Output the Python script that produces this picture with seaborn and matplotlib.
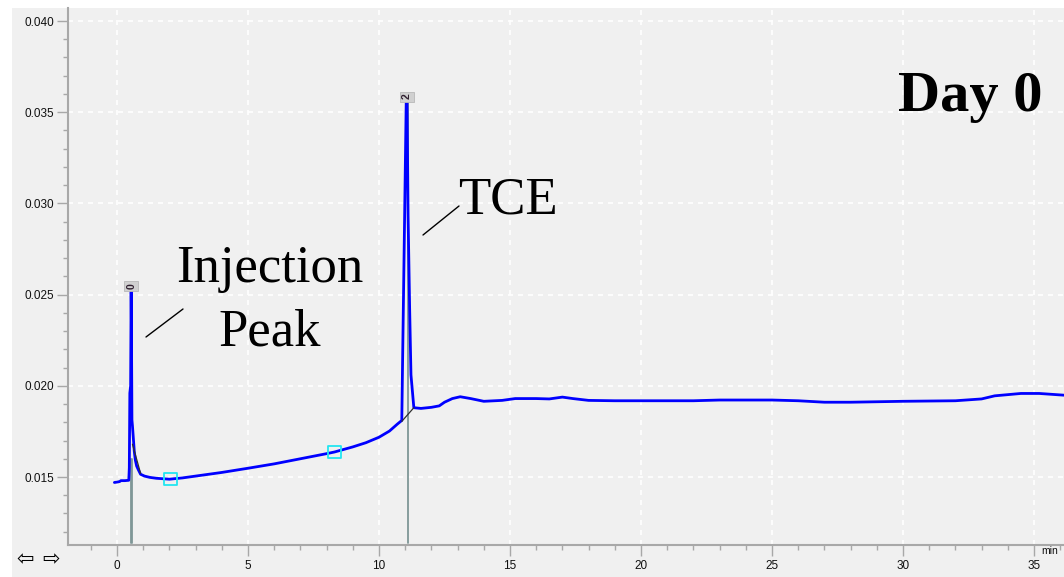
import numpy as np
import pandas as pd
import matplotlib
matplotlib.use("Agg")
import matplotlib.pyplot as plt
import seaborn as sns
from matplotlib.patches import Rectangle

# ---------------- data ----------------
time_min = [-0.10, 0.00, 0.10, 0.15, 0.30, 0.45, 0.47, 0.49, 0.52, 0.54, 0.55, 0.57, 0.59,
            0.61, 0.63, 0.66, 0.70, 0.75, 0.82, 0.90, 1.05, 1.25, 1.50, 2.00, 2.50, 3.00,
            3.50, 4.00, 5.00, 6.00, 7.00, 8.00, 8.30, 9.00, 9.50, 10.00, 10.40, 10.70,
            10.87, 10.90, 10.98, 11.04, 11.07, 11.11, 11.17, 11.22, 11.33, 11.60, 12.00,
            12.30, 12.50, 12.80, 13.10, 13.50, 14.00, 14.70, 15.20, 16.00, 16.50, 17.00,
            17.40, 18.00, 19.00, 20.00, 22.00, 23.00, 25.00, 26.00, 27.00, 28.00, 30.00,
            32.00, 33.00, 33.50, 34.50, 35.20, 36.20]
signal = [0.01470, 0.01472, 0.01475, 0.01480, 0.01480, 0.01482, 0.01550, 0.01960, 0.02000,
          0.02530, 0.02350, 0.01813, 0.01780, 0.01740, 0.01700, 0.01640, 0.01593, 0.01560,
          0.01538, 0.01515, 0.01505, 0.01498, 0.01493, 0.01488, 0.01495, 0.01505, 0.01515,
          0.01525, 0.01548, 0.01572, 0.01600, 0.01628, 0.01637, 0.01665, 0.01688, 0.01718,
          0.01752, 0.01790, 0.01810, 0.02130, 0.02950, 0.03570, 0.03570, 0.02930, 0.02420,
          0.02060, 0.01880, 0.01876, 0.01882, 0.01890, 0.01910, 0.01930, 0.01940, 0.01930,
          0.01915, 0.01920, 0.01930, 0.01930, 0.01928, 0.01938, 0.01930, 0.01920, 0.01918,
          0.01918, 0.01918, 0.01922, 0.01922, 0.01918, 0.01910, 0.01910, 0.01915, 0.01918,
          0.01928, 0.01945, 0.01958, 0.01958, 0.01948]

peak_times = [0.54, 11.07]
peak_heights = [0.0253, 0.0357]
peak_ids = ["0", "2"]
cut_lines = [0.52, 0.59, 11.09]
cut_tops = [0.0160, 0.0160, 0.0357]
marker_times = [2.05, 8.30]
marker_vals = [0.01488, 0.01637]
baseline_tce_t = [10.87, 11.33]
baseline_tce_v = [0.01805, 0.01880]
baseline_inj_t = [0.59, 0.90]
baseline_inj_v = [0.01680, 0.01520]

x_major = [0, 5, 10, 15, 20, 25, 30, 35]
y_major = [0.015, 0.020, 0.025, 0.030, 0.035, 0.040]

# ---------------- figure ----------------
sns.set_style("white")
plt.rcParams['font.family'] = ['Liberation Sans', 'DejaVu Sans']

W, H = 1064, 577
fig = plt.figure(figsize=(W / 100, H / 100), dpi=100, facecolor="white")
bg = "#f0f0f0"
fig.patches.append(Rectangle((12 / W, 0), 1 - 12 / W, 1 - 8 / H, transform=fig.transFigure,
                             facecolor=bg, edgecolor="none", zorder=-10))

left, right, top, bottom = 68, 1064, 8, 545
ax = fig.add_axes([left / W, 1 - bottom / H, (right - left) / W, (bottom - top) / H])
ax.set_facecolor(bg)

px_per_min = (1034 - 117) / 35.0
ax.set_xlim((left - 117) / px_per_min, (right - 117) / px_per_min)
px_per_unit = (477 - 21) / 0.025
ax.set_ylim(0.015 - (bottom - 477) / px_per_unit, 0.040 + (21 - top) / px_per_unit)

# grid
for xv in x_major:
    ax.axvline(xv, color="white", lw=1.2, ls=(0, (3, 3)), zorder=0)
for yv in y_major:
    ax.axhline(yv, color="white", lw=1.2, ls=(0, (3, 3)), zorder=0)

# cut lines
for ct, ctop in zip(cut_lines, cut_tops):
    ax.plot([ct, ct], [ax.get_ylim()[0] + 0.00012, ctop], color="#7f9797", lw=1.3, zorder=2)

# trace
df = pd.DataFrame({"t": time_min, "v": signal})
sns.lineplot(data=df, x="t", y="v", sort=False, estimator=None, color="#0000ff", lw=2.0,
             ax=ax, zorder=3)

# baselines
ax.plot(baseline_tce_t, baseline_tce_v, color="#303030", lw=0.9, zorder=4)
ax.plot(baseline_inj_t, baseline_inj_v, color="#303030", lw=0.9, zorder=4)

# cyan markers
mdf = pd.DataFrame({"t": marker_times, "v": marker_vals})
sns.scatterplot(data=mdf, x="t", y="v", marker="s", s=80, facecolor="none",
                edgecolor="#22e5f0", linewidth=1.3, ax=ax, zorder=5)

# peak id boxes
for pt, ph, pid in zip(peak_times, peak_heights, peak_ids):
    ax.text(pt, ph, pid, rotation=90, fontsize=7.5, fontweight="bold", ha="center",
            va="bottom", color="#302030",
            bbox=dict(boxstyle="square,pad=0.2", facecolor="#d0d0d0", edgecolor="#b8b8b8", lw=0.6),
            zorder=6)

# annotations
serif = ['Liberation Serif', 'DejaVu Serif']
def to_data(xp, yp):
    return ((xp - 117) / px_per_min, 0.015 + (477 - yp) / px_per_unit)

ax.text(*to_data(270, 282), "Injection", family=serif, fontsize=38, ha="center",
        va="baseline", color="black", zorder=7)
ax.text(*to_data(270, 345), "Peak", family=serif, fontsize=38, ha="center",
        va="baseline", color="black", zorder=7)
p1, p2 = to_data(146, 337), to_data(183, 309)
ax.plot([p1[0], p2[0]], [p1[1], p2[1]], color="black", lw=1.0, zorder=7)
ax.text(*to_data(508, 213), "TCE", family=serif, fontsize=38, ha="center",
        va="baseline", color="black", zorder=7)
p1, p2 = to_data(423, 235), to_data(459, 206)
ax.plot([p1[0], p2[0]], [p1[1], p2[1]], color="black", lw=1.0, zorder=7)
ax.text(*to_data(1043, 111), "Day 0", family=serif, fontsize=42, fontweight="bold",
        ha="right", va="baseline", color="black", zorder=7)

# axes styling
for s in ["top", "right"]:
    ax.spines[s].set_visible(False)
for s in ["left", "bottom"]:
    ax.spines[s].set_color("#a8a8a8")
    ax.spines[s].set_linewidth(1.5)

ax.set_xticks(x_major)
ax.set_xticklabels([str(v) for v in x_major])
ax.set_xticks(np.arange(-1, 37, 1), minor=True)
ax.set_yticks(y_major)
ax.set_yticklabels([f"{v:.3f}" for v in y_major])
ax.set_yticks([0.012 + 0.001 * i for i in range(29)], minor=True)
ax.tick_params(axis="both", which="major", length=8, width=1.0, color="#a8a8a8",
               labelsize=8.5, labelcolor="#101010", direction="out", bottom=True, left=True)
ax.tick_params(axis="both", which="minor", length=3.5, width=1.0, color="#a8a8a8",
               direction="out", bottom=True, left=True)
ax.tick_params(axis="x", which="major", pad=3)
ax.tick_params(axis="y", which="major", pad=2)
ax.set_xlabel("")
ax.set_ylabel("")

fig.text(1050 / W, 1 - 551 / H, "min", fontsize=7.5, ha="center", va="center", color="#101010")
fig.text(25 / W, 1 - 559 / H, "\u21e6", fontsize=15, ha="center", va="center",
         family=['DejaVu Sans'], color="black")
fig.text(51 / W, 1 - 559 / H, "\u21e8", fontsize=15, ha="center", va="center",
         family=['DejaVu Sans'], color="black")

fig.savefig("out.png", dpi=100, facecolor="white")
